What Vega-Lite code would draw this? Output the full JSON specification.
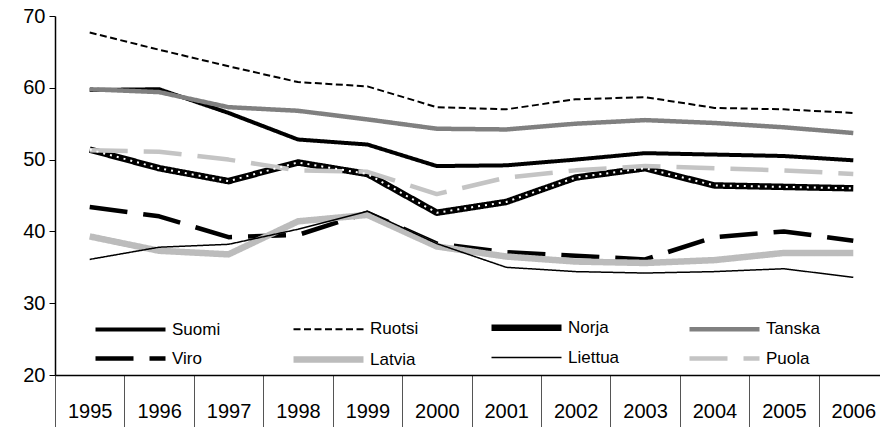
{
  "$schema": "https://vega.github.io/schema/vega-lite/v6.json",
  "width": 833,
  "height": 359,
  "autosize": {"type": "none"},
  "padding": {"left": 55, "top": 16, "right": 0, "bottom": 52},
  "background": "white",
  "config": {
    "view": {"stroke": null},
    "font": "Liberation Sans",
    "axis": {"labelFont": "Liberation Sans", "labelColor": "black", "labelFontSize": 20}
  },
  "datasets": {
    "main": [
      {"year": "1995", "country": "Suomi", "value": 59.7},
      {"year": "1996", "country": "Suomi", "value": 59.8},
      {"year": "1997", "country": "Suomi", "value": 56.5},
      {"year": "1998", "country": "Suomi", "value": 52.8},
      {"year": "1999", "country": "Suomi", "value": 52.1},
      {"year": "2000", "country": "Suomi", "value": 49.1},
      {"year": "2001", "country": "Suomi", "value": 49.2},
      {"year": "2002", "country": "Suomi", "value": 50.0},
      {"year": "2003", "country": "Suomi", "value": 50.9},
      {"year": "2004", "country": "Suomi", "value": 50.7},
      {"year": "2005", "country": "Suomi", "value": 50.5},
      {"year": "2006", "country": "Suomi", "value": 49.9},
      {"year": "1995", "country": "Ruotsi", "value": 67.7},
      {"year": "1996", "country": "Ruotsi", "value": 65.3},
      {"year": "1997", "country": "Ruotsi", "value": 63.0},
      {"year": "1998", "country": "Ruotsi", "value": 60.8},
      {"year": "1999", "country": "Ruotsi", "value": 60.2},
      {"year": "2000", "country": "Ruotsi", "value": 57.3},
      {"year": "2001", "country": "Ruotsi", "value": 57.0},
      {"year": "2002", "country": "Ruotsi", "value": 58.4},
      {"year": "2003", "country": "Ruotsi", "value": 58.7},
      {"year": "2004", "country": "Ruotsi", "value": 57.2},
      {"year": "2005", "country": "Ruotsi", "value": 57.0},
      {"year": "2006", "country": "Ruotsi", "value": 56.5},
      {"year": "1995", "country": "Norja", "value": 51.4},
      {"year": "1996", "country": "Norja", "value": 48.8},
      {"year": "1997", "country": "Norja", "value": 47.0},
      {"year": "1998", "country": "Norja", "value": 49.6},
      {"year": "1999", "country": "Norja", "value": 48.0},
      {"year": "2000", "country": "Norja", "value": 42.6},
      {"year": "2001", "country": "Norja", "value": 44.1},
      {"year": "2002", "country": "Norja", "value": 47.5},
      {"year": "2003", "country": "Norja", "value": 48.8},
      {"year": "2004", "country": "Norja", "value": 46.4},
      {"year": "2005", "country": "Norja", "value": 46.2},
      {"year": "2006", "country": "Norja", "value": 46.0},
      {"year": "1995", "country": "Tanska", "value": 59.8},
      {"year": "1996", "country": "Tanska", "value": 59.4},
      {"year": "1997", "country": "Tanska", "value": 57.3},
      {"year": "1998", "country": "Tanska", "value": 56.8},
      {"year": "1999", "country": "Tanska", "value": 55.6},
      {"year": "2000", "country": "Tanska", "value": 54.3},
      {"year": "2001", "country": "Tanska", "value": 54.2},
      {"year": "2002", "country": "Tanska", "value": 55.0},
      {"year": "2003", "country": "Tanska", "value": 55.5},
      {"year": "2004", "country": "Tanska", "value": 55.1},
      {"year": "2005", "country": "Tanska", "value": 54.5},
      {"year": "2006", "country": "Tanska", "value": 53.7},
      {"year": "1995", "country": "Viro", "value": 43.4},
      {"year": "1996", "country": "Viro", "value": 42.1},
      {"year": "1997", "country": "Viro", "value": 39.2},
      {"year": "1998", "country": "Viro", "value": 39.5},
      {"year": "1999", "country": "Viro", "value": 42.6},
      {"year": "2000", "country": "Viro", "value": 38.3},
      {"year": "2001", "country": "Viro", "value": 37.1},
      {"year": "2002", "country": "Viro", "value": 36.6},
      {"year": "2003", "country": "Viro", "value": 36.1},
      {"year": "2004", "country": "Viro", "value": 39.2},
      {"year": "2005", "country": "Viro", "value": 40.0},
      {"year": "2006", "country": "Viro", "value": 38.7},
      {"year": "1995", "country": "Latvia", "value": 39.3},
      {"year": "1996", "country": "Latvia", "value": 37.3},
      {"year": "1997", "country": "Latvia", "value": 36.8},
      {"year": "1998", "country": "Latvia", "value": 41.4},
      {"year": "1999", "country": "Latvia", "value": 42.3},
      {"year": "2000", "country": "Latvia", "value": 37.9},
      {"year": "2001", "country": "Latvia", "value": 36.5},
      {"year": "2002", "country": "Latvia", "value": 35.8},
      {"year": "2003", "country": "Latvia", "value": 35.6},
      {"year": "2004", "country": "Latvia", "value": 36.0},
      {"year": "2005", "country": "Latvia", "value": 37.0},
      {"year": "2006", "country": "Latvia", "value": 37.0},
      {"year": "1995", "country": "Liettua", "value": 36.1},
      {"year": "1996", "country": "Liettua", "value": 37.8},
      {"year": "1997", "country": "Liettua", "value": 38.2},
      {"year": "1998", "country": "Liettua", "value": 40.3},
      {"year": "1999", "country": "Liettua", "value": 42.8},
      {"year": "2000", "country": "Liettua", "value": 38.3},
      {"year": "2001", "country": "Liettua", "value": 35.0},
      {"year": "2002", "country": "Liettua", "value": 34.4},
      {"year": "2003", "country": "Liettua", "value": 34.2},
      {"year": "2004", "country": "Liettua", "value": 34.4},
      {"year": "2005", "country": "Liettua", "value": 34.8},
      {"year": "2006", "country": "Liettua", "value": 33.6},
      {"year": "1995", "country": "Puola", "value": 51.3},
      {"year": "1996", "country": "Puola", "value": 51.1},
      {"year": "1997", "country": "Puola", "value": 50.0},
      {"year": "1998", "country": "Puola", "value": 48.5},
      {"year": "1999", "country": "Puola", "value": 48.3},
      {"year": "2000", "country": "Puola", "value": 45.2},
      {"year": "2001", "country": "Puola", "value": 47.5},
      {"year": "2002", "country": "Puola", "value": 48.5},
      {"year": "2003", "country": "Puola", "value": 49.1},
      {"year": "2004", "country": "Puola", "value": 48.8},
      {"year": "2005", "country": "Puola", "value": 48.5},
      {"year": "2006", "country": "Puola", "value": 48.0}
    ]
  },
  "data": {"name": "main"},
  "layer": [
    {
      "mark": {"type": "line", "strokeCap": "butt", "strokeJoin": "round"},
      "encoding": {
        "x": {
          "field": "year", "type": "ordinal", "bandPosition": 0.5,
          "scale": {"type": "band", "paddingInner": 0, "paddingOuter": 0},
          "axis": {
            "title": null, "labelAngle": 0, "tickBand": "extent", "tickSize": 52,
            "tickColor": "#555555", "tickWidth": 1, "domainColor": "black", "domainWidth": 1.5,
            "labelPadding": -26, "labelBaseline": "top"
          }
        },
        "y": {
          "field": "value", "type": "quantitative",
          "scale": {"domain": [20, 70], "nice": false, "zero": false},
          "axis": {
            "title": null, "values": [20, 30, 40, 50, 60, 70], "grid": false,
            "tickSize": 6, "tickColor": "black", "domainColor": "black", "domainWidth": 1.5,
            "labelPadding": 4
          }
        },
        "color": {
          "field": "country", "type": "nominal",
          "scale": {
            "domain": ["Suomi", "Ruotsi", "Norja", "Tanska", "Viro", "Latvia", "Liettua", "Puola"],
            "range": ["#000000", "#000000", "#000000", "#808080", "#000000", "#bcbcbc", "#000000", "#c4c4c4"]
          },
          "legend": {
            "title": null, "orient": "none", "legendX": 65, "legendY": 301,
            "columns": 4, "direction": "horizontal", "gridAlign": "all",
            "columnPadding": 54, "rowPadding": 5, "padding": 0,
            "symbolType": "M-5,0H5", "symbolSize": 196, "labelFontSize": 17,
            "labelFont": "Liberation Sans", "labelColor": "black", "labelOffset": 31
          }
        },
        "strokeDash": {
          "field": "country", "type": "nominal",
          "scale": {
            "domain": ["Suomi", "Ruotsi", "Norja", "Tanska", "Viro", "Latvia", "Liettua", "Puola"],
            "range": [[1, 0], [7, 3.5], [1, 0], [1, 0], [38, 16], [1, 0], [1, 0], [38, 16]]
          }
        },
        "strokeWidth": {
          "field": "country", "type": "nominal",
          "scale": {
            "type": "ordinal",
            "domain": ["Suomi", "Ruotsi", "Norja", "Tanska", "Viro", "Latvia", "Liettua", "Puola"],
            "range": [4, 2, 6.5, 4.5, 4.5, 6.5, 1.5, 4.5]
          }
        }
      }
    },
    {
      "transform": [{"filter": "datum.country === 'Norja'"}],
      "mark": {"type": "line", "color": "white", "strokeWidth": 2, "strokeDash": [2, 5], "strokeJoin": "round"},
      "encoding": {
        "x": {"field": "year", "type": "ordinal", "bandPosition": 0.5},
        "y": {"field": "value", "type": "quantitative"}
      }
    }
  ]
}
